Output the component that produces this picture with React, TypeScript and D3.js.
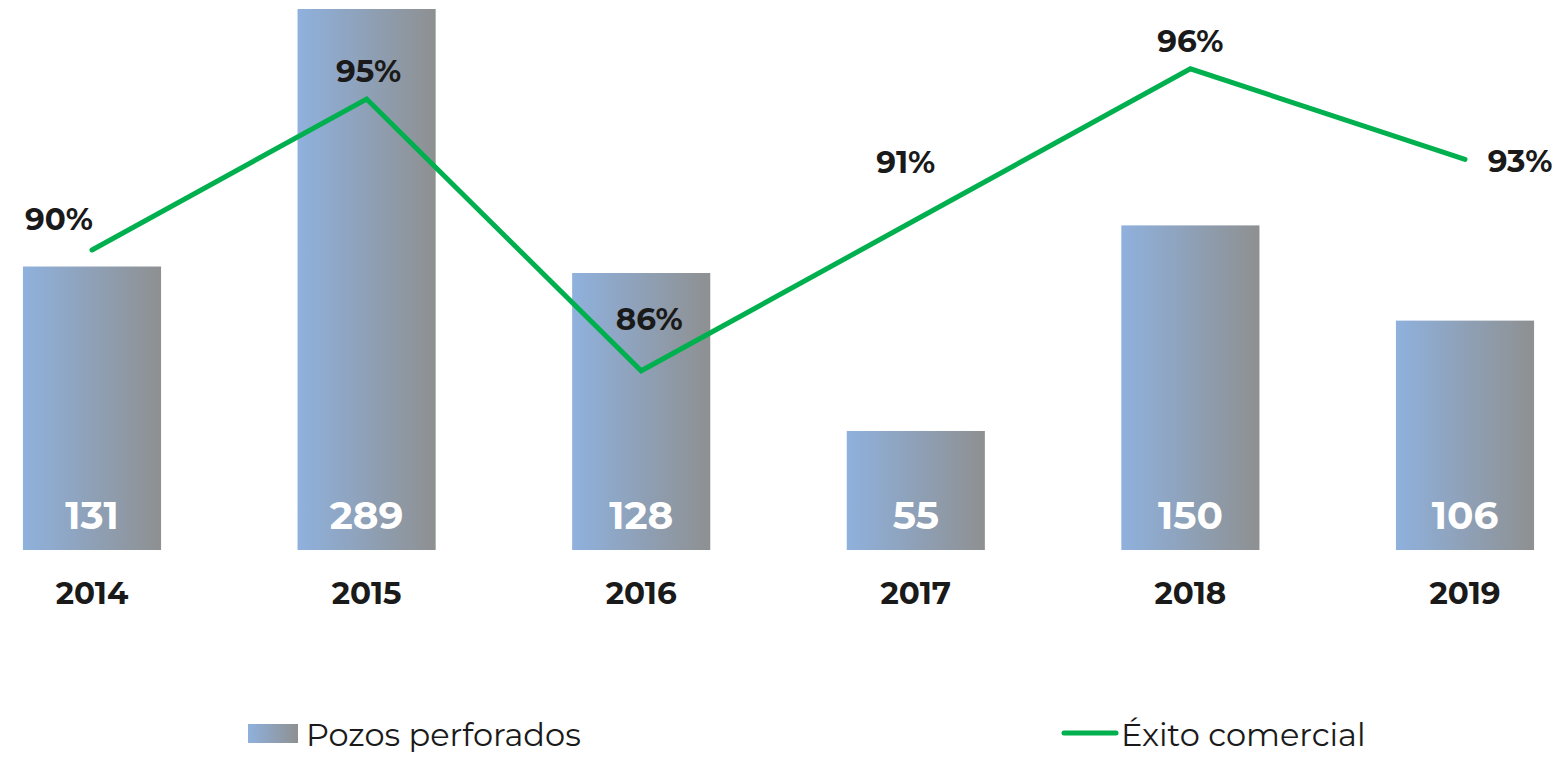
import React from "react";
import * as d3 from "d3";

// chart data
const years = ["2014", "2015", "2016", "2017", "2018", "2019"];
const pozos = [131, 289, 128, 55, 150, 106];
const exito = [90, 95, 86, 91, 96, 93];

// where each % label sits relative to its point (dx, dy of baseline)
const pctLabelOffset: [number, number][] = [
  [-33, -20],
  [2, -17],
  [8, -41],
  [-10, -47],
  [0, -17],
  [55, 13],
];

const W = 1563;
const H = 757;
const FONT = "Montserrat, 'DejaVu Sans', sans-serif";
const GREEN = "#00b04f";

export default function App() {
  const x = d3.scalePoint<string>().domain(years).range([92, 1465]);
  const barW = x.step() * 0.503;

  const yBar = d3.scaleLinear().domain([0, 250]).range([550, 9]).clamp(true);
  const yPct = d3.scaleLinear().domain([80, 100]).range([552, -52]);

  const line = d3
    .line<number>()
    .x((_, i) => x(years[i])!)
    .y((d) => yPct(d));

  return (
    <svg
      width={W}
      height={H}
      style={{ position: "absolute", left: 0, top: 0, background: "#fff" }}
    >
      <defs>
        <linearGradient id="barGrad" x1="0" x2="1" y1="0" y2="0">
          <stop offset="0%" stopColor="#8fb1dd" />
          <stop offset="100%" stopColor="#8e9091" />
        </linearGradient>
      </defs>

      {/* bars */}
      {pozos.map((v, i) => (
        <rect
          key={years[i]}
          x={x(years[i])! - barW / 2}
          y={yBar(v)}
          width={barW}
          height={yBar(0) - yBar(v)}
          fill="url(#barGrad)"
        />
      ))}

      {/* bar values */}
      {pozos.map((v, i) => (
        <text
          key={"v" + i}
          x={x(years[i])!}
          y={yBar(0) - 21}
          textAnchor="middle"
          fill="#fff"
          fontFamily={FONT}
          fontWeight="bold"
          fontSize={39}
        >
          {v}
        </text>
      ))}

      {/* year labels */}
      {years.map((yr) => (
        <text
          key={yr}
          x={x(yr)!}
          y={604}
          textAnchor="middle"
          fill="#1a1a1a"
          fontFamily={FONT}
          fontWeight="bold"
          fontSize={31}
        >
          {yr}
        </text>
      ))}

      {/* success line */}
      <path
        d={line(exito) || ""}
        fill="none"
        stroke={GREEN}
        strokeWidth={5}
        strokeLinecap="round"
        strokeLinejoin="miter"
      />

      {exito.map((v, i) => (
        <text
          key={"p" + i}
          x={x(years[i])! + pctLabelOffset[i][0]}
          y={yPct(v) + pctLabelOffset[i][1]}
          textAnchor="middle"
          fill="#1a1a1a"
          fontFamily={FONT}
          fontWeight="bold"
          fontSize={31}
        >
          {v}%
        </text>
      ))}

      {/* legend */}
      <rect x={248} y={724} width={50} height={19} fill="url(#barGrad)" />
      <text x={306} y={746} fontFamily={FONT} fontSize={32} fill="#1a1a1a">
        Pozos perforados
      </text>
      <line
        x1={1064}
        x2={1116}
        y1={733}
        y2={733}
        stroke={GREEN}
        strokeWidth={5}
        strokeLinecap="round"
      />
      <text x={1121} y={746} fontFamily={FONT} fontSize={32} fill="#1a1a1a">
        Éxito comercial
      </text>
    </svg>
  );
}
